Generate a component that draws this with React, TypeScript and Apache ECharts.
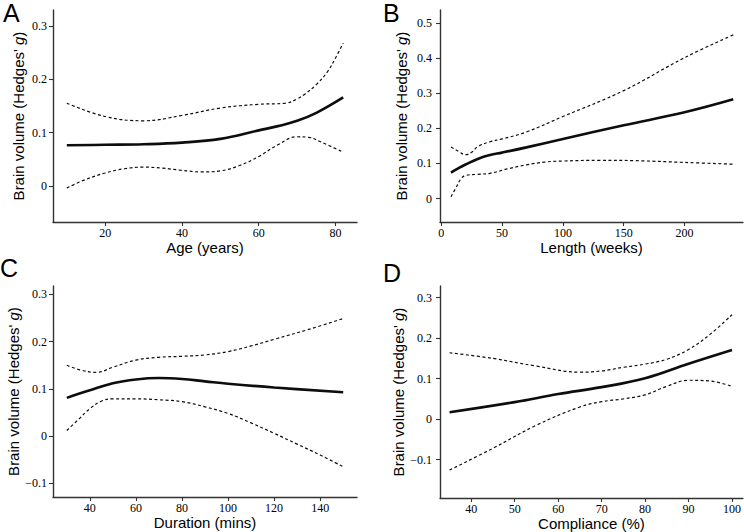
import React, { useEffect, useRef } from "react";
import * as echarts from "echarts";

// Panel A: age
const ageX = [10, 20, 30, 40, 50, 60, 65, 70, 75, 82];
const ageFit = [0.076, 0.077, 0.078, 0.081, 0.088, 0.104, 0.112, 0.122, 0.137, 0.166];
const ageUpperX = [10, 20, 30, 40, 50, 60, 67, 70, 72, 75, 78, 80, 82];
const ageUpper = [0.155, 0.13, 0.122, 0.132, 0.146, 0.153, 0.155, 0.163, 0.172, 0.19, 0.215, 0.24, 0.268];
const ageLowerX = [10, 15, 20, 25, 30, 35, 40, 45, 50, 55, 60, 65, 70, 73, 76, 82];
const ageLower = [-0.004, 0.012, 0.024, 0.032, 0.035, 0.033, 0.029, 0.026, 0.028, 0.038, 0.055, 0.077, 0.092, 0.091, 0.083, 0.063];

// Panel B: length
const lenX = [8, 15, 20, 30, 40, 50, 70, 100, 150, 200, 240];
const lenFit = [0.074, 0.088, 0.097, 0.113, 0.124, 0.131, 0.146, 0.17, 0.209, 0.246, 0.283];
const lenUpperX = [8, 14, 20, 25, 30, 40, 50, 70, 100, 150, 200, 240];
const lenUpper = [0.147, 0.135, 0.125, 0.132, 0.148, 0.162, 0.17, 0.19, 0.234, 0.308, 0.402, 0.467];
const lenLowerX = [8, 12, 16, 20, 30, 40, 55, 70, 85, 100, 130, 160, 200, 240];
const lenLower = [0.005, 0.03, 0.055, 0.066, 0.069, 0.072, 0.085, 0.096, 0.104, 0.107, 0.109, 0.108, 0.103, 0.098];

// Panel C: session duration
const durX = [30, 40, 50, 60, 70, 80, 90, 100, 120, 150];
const durFit = [0.081, 0.097, 0.112, 0.12, 0.123, 0.121, 0.116, 0.111, 0.103, 0.093];
const durUpperX = [30, 36, 43, 50, 60, 70, 80, 90, 100, 110, 120, 135, 150];
const durUpper = [0.15, 0.14, 0.135, 0.146, 0.161, 0.167, 0.169, 0.172, 0.179, 0.191, 0.205, 0.226, 0.249];
const durLowerX = [30, 35, 40, 45, 50, 60, 70, 80, 90, 100, 110, 120, 130, 140, 150];
const durLower = [0.012, 0.035, 0.058, 0.074, 0.079, 0.079, 0.077, 0.073, 0.062, 0.048, 0.028, 0.006, -0.017, -0.04, -0.065];

// Panel D: compliance
const compX = [35, 50, 60, 70, 80, 90, 100];
const compFit = [0.017, 0.042, 0.062, 0.079, 0.101, 0.137, 0.171];
const compUpperX = [35, 45, 55, 65, 70, 75, 80, 85, 90, 95, 100];
const compUpper = [0.164, 0.15, 0.131, 0.116, 0.119, 0.128, 0.136, 0.148, 0.172, 0.21, 0.258];
const compLowerX = [35, 45, 55, 65, 70, 75, 80, 85, 90, 95, 100];
const compLower = [-0.126, -0.072, -0.015, 0.03, 0.043, 0.05, 0.06, 0.081, 0.096, 0.094, 0.081];

// Tick values
const ageTicks = [20, 40, 60, 80];
const lenTicks = [0, 50, 100, 150, 200];
const durTicks = [40, 60, 80, 100, 120, 140];
const compTicks = [40, 50, 60, 70, 80, 90, 100];
const yTicksA = [0, 0.1, 0.2, 0.3];
const yTicksB = [0, 0.1, 0.2, 0.3, 0.4, 0.5];
const yTicksC = [-0.1, 0, 0.1, 0.2, 0.3];
const yTicksD = [-0.1, 0, 0.1, 0.2, 0.3];

const xTitles = ["Age (years)", "Length (weeks)", "Duration (mins)", "Compliance (%)"];
const panelLetters = ["A", "B", "C", "D"];

const SANS = "'Liberation Sans', Arial, Helvetica, sans-serif";
const SERIF = "'Liberation Serif', 'Times New Roman', serif";
const AXIS_COLOR = "#333333";
const INK = "#0d0d0d";

const pairs = (xs: number[], ys: number[]) => xs.map((x, i) => [x, ys[i]]);

const fmt = (v: number) => {
  const r = Math.round(v * 10) / 10;
  if (r === 0) return "0";
  return r < 0 ? "\u2212" + String(Math.abs(r)) : String(r);
};

export default function App() {
  const ref = useRef<HTMLDivElement>(null);

  useEffect(() => {
    if (!ref.current) return;
    const chart = echarts.init(ref.current, null, { renderer: "svg" });

    const grids = [
      { left: 53, top: 10, width: 304, height: 212 },
      { left: 440, top: 10, width: 303, height: 212 },
      { left: 53, top: 286, width: 304, height: 211 },
      { left: 440, top: 286, width: 303, height: 212 },
    ];

    const xSpecs = [
      { min: 6.4, max: 85.6, ticks: ageTicks },
      { min: -1, max: 248, ticks: lenTicks },
      { min: 24, max: 156, ticks: durTicks },
      { min: 32.8, max: 102.5, ticks: compTicks },
    ];
    const ySpecs = [
      { min: -0.068, max: 0.33, ticks: yTicksA, gap: 27, margin: 6 },
      { min: -0.067, max: 0.538, ticks: yTicksB, gap: 31, margin: 8 },
      { min: -0.129, max: 0.318, ticks: yTicksC, gap: 28, margin: 6 },
      { min: -0.195, max: 0.329, ticks: yTicksD, gap: 31, margin: 8 },
    ];

    const xAxis = xSpecs.map((s, i) => ({
      type: "value",
      gridIndex: i,
      min: s.min,
      max: s.max,
      name: xTitles[i],
      nameLocation: "middle",
      nameGap: 18,
      nameTextStyle: { fontFamily: SANS, fontSize: 15, color: "#000000" },
      axisLine: { onZero: false, lineStyle: { color: AXIS_COLOR, width: 1.4 } },
      axisTick: { length: 4, customValues: s.ticks, lineStyle: { color: AXIS_COLOR, width: 1.1 } },
      axisLabel: {
        customValues: s.ticks,
        margin: 5,
        fontFamily: SERIF,
        fontSize: 12,
        color: "#000000",
        formatter: (v: number) => String(Math.round(v)),
      },
      splitLine: { show: false },
    }));

    const yName = "{n|Brain volume (Hedges' }{i|g}{n|)}";
    const yAxis = ySpecs.map((s, i) => ({
      type: "value",
      gridIndex: i,
      min: s.min,
      max: s.max,
      name: yName,
      nameLocation: "middle",
      nameRotate: 90,
      nameGap: s.gap,
      nameTextStyle: {
        rich: {
          n: { fontFamily: SANS, fontSize: 15, color: "#000000" },
          i: { fontFamily: SANS, fontSize: 15, color: "#000000", fontStyle: "italic" },
        },
      },
      axisLine: { show: true, onZero: false, lineStyle: { color: AXIS_COLOR, width: 1.4 } },
      axisTick: { show: true, length: 4, customValues: s.ticks, lineStyle: { color: AXIS_COLOR, width: 1.1 } },
      axisLabel: {
        customValues: s.ticks,
        margin: s.margin,
        fontFamily: SERIF,
        fontSize: 12,
        color: "#000000",
        formatter: fmt,
      },
      splitLine: { show: false },
    }));

    const panels = [
      { fit: pairs(ageX, ageFit), up: pairs(ageUpperX, ageUpper), lo: pairs(ageLowerX, ageLower) },
      { fit: pairs(lenX, lenFit), up: pairs(lenUpperX, lenUpper), lo: pairs(lenLowerX, lenLower) },
      { fit: pairs(durX, durFit), up: pairs(durUpperX, durUpper), lo: pairs(durLowerX, durLower) },
      { fit: pairs(compX, compFit), up: pairs(compUpperX, compUpper), lo: pairs(compLowerX, compLower) },
    ];

    const series: any[] = [];
    panels.forEach((p, i) => {
      series.push({
        type: "line",
        xAxisIndex: i,
        yAxisIndex: i,
        data: p.fit,
        smooth: 0.4,
        symbol: "none",
        lineStyle: { color: INK, width: 2.6 },
      });
      [p.up, p.lo].forEach((d) =>
        series.push({
          type: "line",
          xAxisIndex: i,
          yAxisIndex: i,
          data: d,
          smooth: 0.4,
          symbol: "none",
          lineStyle: { color: INK, width: 1.2, type: [3, 2.5] },
        })
      );
    });

    const letterPos = [
      { x: 3, y: 0 },
      { x: 383, y: 0 },
      { x: 0, y: 255 },
      { x: 383, y: 260 },
    ];

    chart.setOption({
      animation: false,
      backgroundColor: "#ffffff",
      grid: grids,
      xAxis,
      yAxis,
      series,
      graphic: panelLetters.map((t, i) => ({
        type: "text",
        left: letterPos[i].x,
        top: letterPos[i].y,
        style: { text: t, fontFamily: SANS, fontSize: 25, fill: "#000000" },
      })),
    });

    return () => chart.dispose();
  }, []);

  return <div ref={ref} style={{ width: 744, height: 532, position: "absolute", left: 0, top: 0 }} />;
}
